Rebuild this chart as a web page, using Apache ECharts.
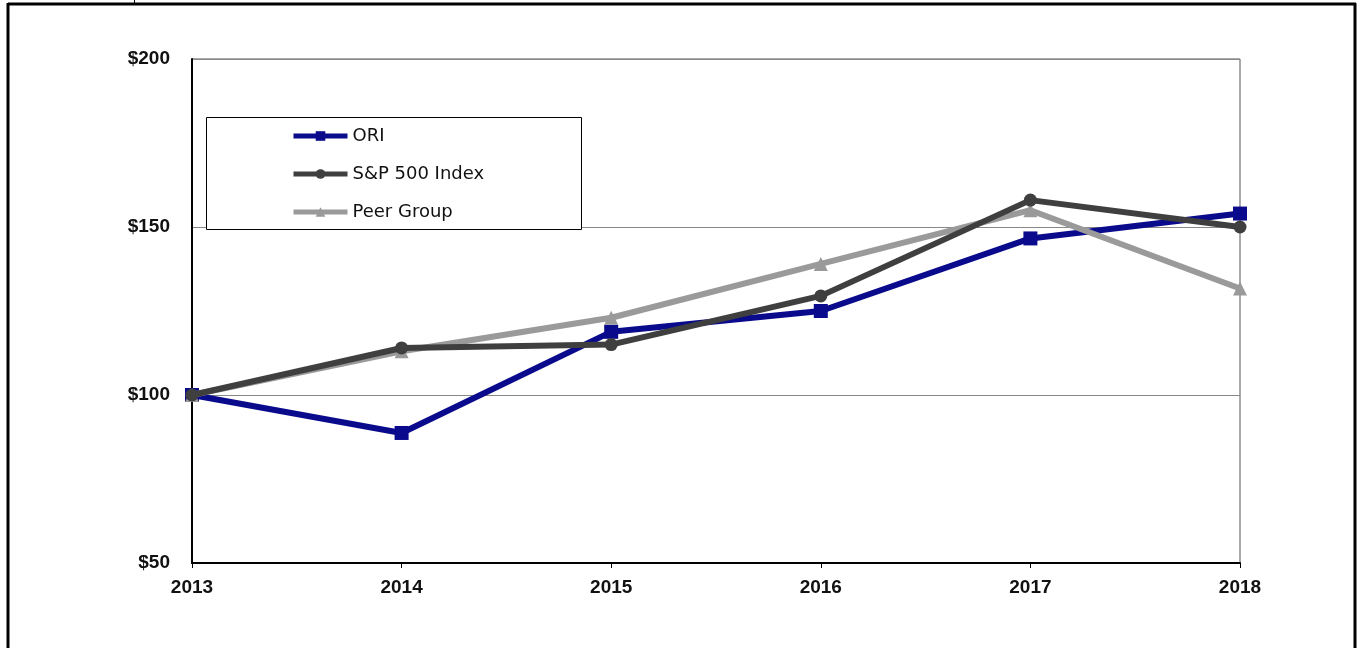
<!DOCTYPE html>
<html>
<head>
<meta charset="utf-8">
<script src="https://cdn.jsdelivr.net/npm/echarts@6/dist/echarts.min.js"></script>
<style>
html,body{margin:0;padding:0;background:#fff;}
#c{width:1361px;height:648px;}
</style>
</head>
<body>
<div id="c"></div>
<script>
const years = ['2013','2014','2015','2016','2017','2018'];
const ori = [100, 88.7, 118.8, 125, 146.6, 154];
const sp500 = [100, 114, 115, 129.5, 158, 150];
const peer = [100, 113, 123, 139, 155, 131.7];
const yTicks = [50, 100, 150, 200];

const chart = echarts.init(document.getElementById('c'));
const font = 'Liberation Sans, Arial, sans-serif';
chart.setOption({
  animation: false,
  backgroundColor: '#fff',
  grid: { left: 192, right: 121, top: 59, bottom: 85, show: true, borderColor: '#555', borderWidth: 1 },
  legend: {
    orient: 'vertical', left: 286, top: 122, itemWidth: 54, itemHeight: 12, itemGap: 20,
    textStyle: { fontFamily: 'DejaVu Sans, sans-serif', fontSize: 18, color: '#111', padding: [0, 0, 0, 0] },
    lineStyle: { width: 5 },
    data: ['ORI', 'S&P 500 Index', 'Peer Group'],
    z: 10
  },
  graphic: [
    { type: 'rect', shape: { x: 206.5, y: 117.5, width: 375, height: 112 }, style: { fill: '#fff', stroke: '#000', lineWidth: 1 }, z: 5 },
    { type: 'line', shape: { x1: 8, y1: 4, x2: 1356, y2: 4 }, style: { stroke: '#000', lineWidth: 3 }, z: 20 },
    { type: 'line', shape: { x1: 8, y1: 3, x2: 8, y2: 648 }, style: { stroke: '#000', lineWidth: 3 }, z: 20 },
    { type: 'line', shape: { x1: 1355, y1: 3, x2: 1355, y2: 648 }, style: { stroke: '#000', lineWidth: 3 }, z: 20 },
    { type: 'line', shape: { x1: 134.5, y1: 0, x2: 134.5, y2: 4 }, style: { stroke: '#000', lineWidth: 1 }, z: 20 }
  ],
  xAxis: {
    type: 'category', data: years, boundaryGap: false,
    axisLine: { lineStyle: { color: '#000', width: 2 } },
    axisTick: { show: true, length: 5, lineStyle: { color: '#000' } },
    axisLabel: { fontFamily: font, fontSize: 19, fontWeight: 'bold', color: '#111', margin: 15 },
    splitLine: { show: false }
  },
  yAxis: {
    type: 'value', min: 50, max: 200, interval: 50,
    axisLine: { show: true, lineStyle: { color: '#000', width: 2 } },
    axisTick: { show: false },
    axisLabel: { fontFamily: font, fontSize: 19, fontWeight: 'bold', color: '#111', margin: 22,
      formatter: v => yTicks.includes(v) ? '$' + v : '' },
    splitLine: { show: true, lineStyle: { color: '#888', width: 1 } }
  },
  series: [
    { name: 'S&P 500 Index', type: 'line', data: sp500, symbol: 'circle', symbolSize: 13,
      lineStyle: { color: '#3f3f3f', width: 6 }, itemStyle: { color: '#3f3f3f' }, z: 3 },
    { name: 'Peer Group', type: 'line', data: peer, symbol: 'triangle', symbolSize: 14,
      lineStyle: { color: '#9a9a9a', width: 6 }, itemStyle: { color: '#9a9a9a' }, z: 2 },
    { name: 'ORI', type: 'line', data: ori, symbol: 'rect', symbolSize: 14,
      lineStyle: { color: '#0a0a8c', width: 6 }, itemStyle: { color: '#0a0a8c' }, z: 1 }
  ]
});
</script>
</body>
</html>
